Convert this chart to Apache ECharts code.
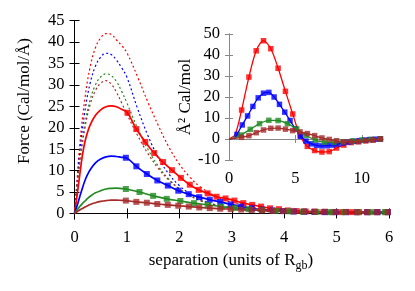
<!DOCTYPE html>
<html><head><meta charset="utf-8">
<script src="https://cdn.jsdelivr.net/npm/echarts@6/dist/echarts.min.js"></script>
<style>html,body{margin:0;padding:0;background:#fff}#c{width:415px;height:291px}</style>
</head><body><div id="c"></div>
<script>
// ---------- main plot data ----------
const xTicks = [0,1,2,3,4,5,6];
const yTicks = [0,5,10,15,20,25,30,35,40,45];
// solid (theory) curves near origin
const theoryX   = [0,0.05,0.1,0.15,0.2,0.25,0.3,0.4,0.5,0.6,0.7,0.8,0.9];
const redTheory   = [0,4.2,9,13.5,16.8,19,20.7,22.9,24.2,24.9,25.1,24.9,24.3];
const blueTheory  = [0,1.8,3.9,5.9,7.7,9.1,10.2,11.8,12.7,13.2,13.4,13.3,13.1];
const greenTheory = [0,0.8,1.6,2.3,2.9,3.5,4.0,4.8,5.3,5.7,5.85,5.9,5.8];
const brownTheory = [0,0.4,0.8,1.15,1.5,1.8,2.1,2.5,2.8,3.0,3.1,3.1,3.05];
// dotted curves
const dotX = [0,0.05,0.1,0.2,0.3,0.4,0.5,0.6,0.7,0.8,0.9,1.0,1.2,1.4,1.6,1.8,2.0,2.2,2.4,2.7,3.0,3.5,4.0,5.0,6.0];
const redDot   = [0,8,16,27,34.3,38.7,41,42,41.8,40.5,39.2,37.5,32,26,20.5,15.5,11.5,8.5,6.2,4,2.6,1.2,0.6,0.2,0.1];
const blueDot  = [0,7.1,14.2,24,30.5,34.4,36.5,37.4,37.1,35.8,34,31.8,24.6,18.2,13,9.2,6.5,4.6,3.3,2,1.3,0.6,0.3,0.1,0.05];
const greenDot = [0,6.2,12.4,21,26.6,30,31.9,32.6,32.2,30.8,28.5,25.8,20,15,11,8,5.8,4.2,3,1.9,1.2,0.6,0.3,0.1,0.05];
const brownDot = [0,5.9,11.8,20,25.5,28.7,30.4,31,30.2,28.3,25.8,23.2,18.3,14,10.5,7.8,5.7,4.2,3,1.9,1.2,0.6,0.3,0.1,0.05];
// square markers
const redSqX = [1.01,1.18,1.35,1.52,1.69,1.86,2.03,2.20,2.37,2.54,2.71,2.88,3.05,3.22,3.39,3.56,3.73,3.90,4.07,4.24,4.41,4.58,4.75,4.92,5.09,5.26,5.43,5.60,5.77,5.94];
const redSqY = [23.5,19.7,16.7,14.1,12.0,10.1,8.3,6.7,5.5,4.7,3.9,3.5,3.0,2.4,2.0,1.6,1.2,1.0,0.7,0.55,0.45,0.4,0.35,0.3,0.3,0.3,0.3,0.3,0.3,0.3];
const blueSqX = [0.98,1.18,1.38,1.58,1.78,1.98,2.18,2.38,2.58,2.78,2.98,3.18,3.38,3.58,3.78,3.98,4.18,4.38,4.58,4.78,4.98,5.18,5.38,5.58,5.78,5.98];
const blueSqY = [13.0,11.0,9.2,7.7,6.5,5.3,4.5,3.8,3.2,2.7,2.1,1.6,1.2,0.9,0.7,0.55,0.45,0.4,0.35,0.3,0.3,0.3,0.3,0.3,0.3,0.3];
const greenSqX = [0.98,1.24,1.50,1.76,2.02,2.28,2.54,2.80,3.06,3.32,3.58,3.84,4.10,4.36,4.62,4.88,5.14,5.40,5.66,5.92];
const greenSqY = [5.7,5.0,4.1,3.4,2.9,2.4,2.0,1.6,1.3,1.0,0.8,0.6,0.5,0.4,0.35,0.3,0.3,0.3,0.3,0.3];
const brownSqX = [0.98,1.18,1.38,1.58,1.78,1.98,2.18,2.38,2.58,2.78,2.98,3.18,3.38,3.58,3.78,3.98,4.18,4.38,4.58,4.78,4.98,5.18,5.38,5.58,5.78,5.98];
const brownSqY = [3.0,2.7,2.5,2.2,2.0,1.8,1.6,1.4,1.25,1.1,1.0,0.9,0.8,0.7,0.6,0.55,0.5,0.45,0.4,0.4,0.35,0.35,0.3,0.3,0.3,0.3];

// ---------- inset data ----------
const insetXTicks = [0,5,10];
const insetLeadX = [0,0.45];
const insetLeadRed = [0,2.0];
const insetLeadBlue = [0,0.6];
const insetLeadGreen = [0,0.5];
const insetLeadBrown = [0,0.3];
const insetRedX = [0.95,1.5,2.05,2.6,3.15,3.7,4.25,4.8,5.35,5.9,6.45,7.0,7.55,8.1,8.65,9.2,9.75,10.3,10.85,11.4];
const insetRedY = [13.8,29.5,42,46.8,43,33.7,22.7,11.9,1.5,-3.5,-5.5,-6.2,-6.0,-4.3,-2.9,-1.7,-1.2,-0.8,-0.4,0];
const insetBlueX = [0.6,1.0,1.4,1.8,2.2,2.6,3.0,3.4,3.8,4.2,4.6,5.0,5.4,5.8,6.2,6.6,7.0,7.4,7.8,8.2,8.6,9.0,9.4,9.8,10.2,10.6,11.0,11.4];
const insetBlueY = [2.2,6.7,11,15.5,19.6,21.8,22.2,20,16.5,12.8,8.8,4.8,1.3,-1.0,-2.3,-3.0,-3.3,-3.2,-2.9,-2.4,-1.9,-1.5,-1.1,-0.8,-0.5,-0.3,-0.1,0];
const insetGreenX = [0.9,1.6,2.3,3.0,3.7,4.4,5.1,5.8,6.5,7.2,7.9,8.6,9.3,10.0,10.7,11.4];
const insetGreenY = [1.9,4.6,7.3,8.9,8.8,7.3,4.8,1.8,-0.5,-1.5,-1.6,-1.3,-0.9,-0.5,-0.2,0];
const insetBrownX = [0.95,1.5,2.05,2.6,3.15,3.7,4.25,4.8,5.35,5.9,6.45,7.0,7.55,8.1,8.65,9.2,9.75,10.3,10.85,11.4];
const insetBrownY = [0.8,1.6,3.0,4.3,5.1,5.2,4.7,4.0,3.4,2.6,1.6,0.5,-0.2,-0.8,-1.3,-1.3,-1.3,-0.8,-0.5,0];

// ---------- build ----------
const RED='#ff0000', BLUE='#0000ff', GREEN='#228b22', BROWN='#a52a2a';
const FONT='"Liberation Serif","DejaVu Serif",serif';
const zip=(xs,ys)=>xs.map((x,i)=>[x,ys[i]]);

function dotted(ys,c){return {type:'line',xAxisIndex:0,yAxisIndex:0,data:zip(dotX,ys),smooth:0.4,showSymbol:false,
  lineStyle:{color:c,width:1.2,type:[2,2.5]},z:2,silent:true};}
function solid(tx,sx,sy,c){return {type:'line',xAxisIndex:0,yAxisIndex:0,data:zip(theoryX,tx).concat(zip(sx,sy)),smooth:0.4,showSymbol:false,
  lineStyle:{color:c,width:1.7},z:3,silent:true};}
function squares(sx,sy,c,z){return {type:'scatter',xAxisIndex:0,yAxisIndex:0,data:zip(sx,sy),symbol:'rect',symbolSize:6,
  itemStyle:{color:c},z:z,silent:true};}
function insetLine(ly,sx,sy,c,z){return {type:'line',xAxisIndex:2,yAxisIndex:2,data:zip(insetLeadX,ly).concat(zip(sx,sy)),smooth:0.3,showSymbol:false,
  lineStyle:{color:c,width:1.3},z:z,silent:true};}
function insetSq(sx,sy,c,z){return {type:'scatter',xAxisIndex:2,yAxisIndex:2,data:zip(sx,sy),symbol:'rect',symbolSize:5.5,
  itemStyle:{color:c},z:z,silent:true};}

const tickLbl={fontFamily:FONT,fontSize:16.5,color:'#000'};
const chart=echarts.init(document.getElementById('c'),null,{renderer:'canvas'});
chart.setOption({
  animation:false,
  backgroundColor:'#fff',
  grid:[
    {left:74.5,top:20.7,width:314.5,height:198.3,show:false},
    {left:229,top:34,width:154,height:126,show:true,backgroundColor:'#fff',borderWidth:0,z:4}
  ],
  xAxis:[
    {gridIndex:0,type:'value',min:0,max:6,interval:1,position:'bottom',
     axisLine:{lineStyle:{color:'#000',width:1}},axisTick:{inside:true,length:5,lineStyle:{color:'#000'}},
     axisLabel:Object.assign({margin:10,customValues:xTicks},tickLbl),splitLine:{show:false}},
    {gridIndex:0,type:'value',min:0,max:6,interval:1,position:'top',
     axisLine:{lineStyle:{color:'#000',width:1}},axisTick:{inside:true,length:5,lineStyle:{color:'#000'}},
     axisLabel:{show:false},splitLine:{show:false}},
    {gridIndex:1,type:'value',min:0,max:11.6,interval:5,position:'bottom',z:5,
     axisLine:{lineStyle:{color:'#888',width:1}},axisTick:{inside:true,length:4,lineStyle:{color:'#888'},customValues:insetXTicks},
     axisLabel:Object.assign({margin:10,customValues:insetXTicks},tickLbl),splitLine:{show:false}},
    {gridIndex:1,type:'value',min:0,max:11.6,interval:5,position:'top',z:5,
     axisLine:{lineStyle:{color:'#888',width:1}},axisTick:{inside:true,length:4,lineStyle:{color:'#888'},customValues:insetXTicks},
     axisLabel:{show:false},splitLine:{show:false}}
  ],
  yAxis:[
    {gridIndex:0,type:'value',min:-1.3,max:45,position:'left',
     axisLine:{show:true,lineStyle:{color:'#000',width:1}},axisTick:{show:true,inside:true,length:5,lineStyle:{color:'#000'},customValues:yTicks},
     axisLabel:Object.assign({margin:10,customValues:yTicks},tickLbl),splitLine:{show:false}},
    {gridIndex:0,type:'value',min:-1.3,max:45,position:'right',
     axisLine:{show:true,lineStyle:{color:'#000',width:1}},axisTick:{show:true,inside:true,length:5,lineStyle:{color:'#000'},customValues:yTicks},
     axisLabel:{show:false},splitLine:{show:false}},
    {gridIndex:1,type:'value',min:-10,max:50,interval:10,position:'left',z:5,
     axisLine:{show:true,lineStyle:{color:'#888',width:1}},axisTick:{show:true,inside:true,length:4,lineStyle:{color:'#888'}},
     axisLabel:Object.assign({margin:9},tickLbl),splitLine:{show:false}},
    {gridIndex:1,type:'value',min:-10,max:50,interval:10,position:'right',z:5,
     axisLine:{show:true,lineStyle:{color:'#888',width:1}},axisTick:{show:true,inside:true,length:4,lineStyle:{color:'#888'}},
     axisLabel:{show:false},splitLine:{show:false}}
  ],
  series:[
    dotted(redDot,RED),dotted(blueDot,BLUE),dotted(greenDot,GREEN),dotted(brownDot,BROWN),
    solid(redTheory,redSqX,redSqY,RED),solid(blueTheory,blueSqX,blueSqY,BLUE),
    solid(greenTheory,greenSqX,greenSqY,GREEN),solid(brownTheory,brownSqX,brownSqY,BROWN),
    squares(redSqX,redSqY,RED,4),squares(blueSqX,blueSqY,BLUE,5),squares(greenSqX,greenSqY,GREEN,6),squares(brownSqX,brownSqY,BROWN,7),
    insetLine(insetLeadRed,insetRedX,insetRedY,RED,10),insetSq(insetRedX,insetRedY,RED,11),
    insetLine(insetLeadBlue,insetBlueX,insetBlueY,BLUE,12),insetSq(insetBlueX,insetBlueY,BLUE,13),
    insetLine(insetLeadGreen,insetGreenX,insetGreenY,GREEN,14),insetSq(insetGreenX,insetGreenY,GREEN,15),
    insetLine(insetLeadBrown,insetBrownX,insetBrownY,BROWN,16),insetSq(insetBrownX,insetBrownY,BROWN,17)
  ],
  graphic:[
    {type:'text',x:25,y:101,rotation:Math.PI/2,z:20,
     style:{text:'Force (Cal/mol/Å)',font:'17px '+FONT,fill:'#000',align:'center',verticalAlign:'middle'}},
    {type:'text',x:186,y:97,rotation:Math.PI/2,z:20,
     style:{text:'Å² Cal/mol',font:'17px '+FONT,fill:'#000',align:'center',verticalAlign:'middle'}},
    {type:'text',x:231,y:261,z:20,
     style:{text:'separation (units of R{sub|gb})',font:'17px '+FONT,fill:'#000',align:'center',verticalAlign:'middle',
       rich:{sub:{font:'12px '+FONT,fill:'#000',padding:[10,0,0,0]}}}}
  ]
});
</script></body></html>
